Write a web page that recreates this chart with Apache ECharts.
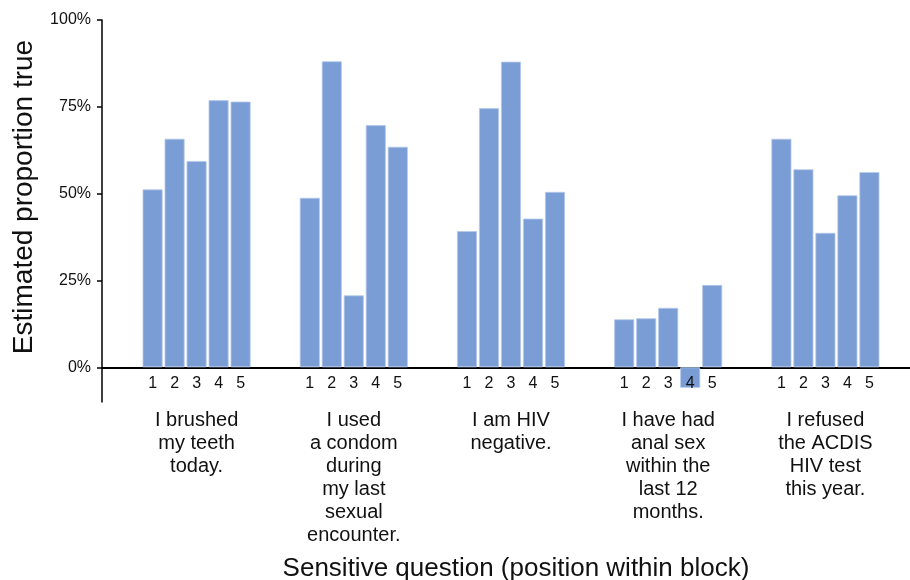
<!DOCTYPE html>
<html>
<head>
<meta charset="utf-8">
<script src="https://cdn.jsdelivr.net/npm/echarts@6/dist/echarts.min.js"></script>
<style>
html,body{margin:0;padding:0;background:#fff;}
#chart{width:910px;height:580px;}
</style>
</head>
<body>
<div id="chart"></div>
<script>
// ---- data ----
var questions = [
  'I brushed\nmy teeth\ntoday.',
  'I used\na condom\nduring\nmy last\nsexual\nencounter.',
  'I am HIV\nnegative.',
  'I have had\nanal sex\nwithin the\nlast 12\nmonths.',
  'I refused\nthe ACDIS\nHIV test\nthis year.'
];
var positions = ['1', '2', '3', '4', '5'];
var pos1 = [51.2, 48.8, 39.2, 13.8, 65.8];
var pos2 = [65.8, 88.1, 74.6, 14.1, 57.0];
var pos3 = [59.4, 20.7, 88.0, 17.1, 38.7];
var pos4 = [76.9, 69.7, 42.8, -5.9, 49.5];
var pos5 = [76.5, 63.5, 50.5, 23.7, 56.2];
var yTicks = [0, 25, 50, 75, 100];
var yMin = -10, yMax = 100;
var xTitle = 'Sensitive question (position within block)';
var yTitle = 'Estimated proportion true';

var seriesValues = [pos1, pos2, pos3, pos4, pos5];
var FONT = 'Liberation Sans, Arial, sans-serif';
var BAR = '#7b9dd6';

var chart = echarts.init(document.getElementById('chart'), null, {renderer: 'canvas'});

var series = seriesValues.map(function (vals, i) {
  return {
    name: positions[i],
    type: 'bar',
    xAxisIndex: 0,
    yAxisIndex: 0,
    barWidth: 20,
    barGap: '10%',
    itemStyle: {color: BAR, borderColor: '#b4c8ea', borderWidth: 0.8},
    label: {
      show: true,
      position: 'bottom',
      distance: 8,
      formatter: '{a}',
      color: '#111',
      fontSize: 16,
      fontFamily: FONT
    },
    silent: true,
    data: vals.map(function (v) {
      if (v < 0) {
        return {value: v, label: {position: 'insideTop', distance: 8}};
      }
      return v;
    })
  };
});

var option = {
  backgroundColor: '#fff',
  animation: false,
  textStyle: {fontFamily: FONT},
  grid: [
    {left: 118, width: 786, top: 20, height: 382, outerBoundsMode: 'none', containLabel: false},
    {left: 102, right: 0, top: 20, height: 382, outerBoundsMode: 'none', containLabel: false}
  ],
  xAxis: [
    {
      type: 'category',
      gridIndex: 0,
      data: questions,
      position: 'bottom',
      axisLine: {show: false, onZero: false},
      axisTick: {show: false},
      axisLabel: {
        margin: 7,
        fontSize: 20,
        lineHeight: 23,
        color: '#111',
        fontFamily: FONT,
        interval: 0
      },
      name: xTitle,
      nameLocation: 'middle',
      nameGap: 154,
      nameTextStyle: {fontSize: 26, color: '#111', fontFamily: FONT, padding: [0, 0, 0, 10]}
    },
    {
      type: 'category',
      gridIndex: 1,
      data: [''],
      axisLine: {show: true, onZero: true, lineStyle: {color: '#000', width: 2}},
      axisTick: {show: false},
      axisLabel: {show: false}
    }
  ],
  yAxis: [
    {
      type: 'value',
      gridIndex: 0,
      min: yMin,
      max: yMax,
      show: false,
      splitLine: {show: false}
    },
    {
      type: 'value',
      gridIndex: 1,
      min: yMin,
      max: yMax,
      splitLine: {show: false},
      axisLine: {show: true, lineStyle: {color: '#000', width: 1.5}},
      axisTick: {show: true, length: 5, lineStyle: {color: '#000', width: 1.5}, customValues: yTicks},
      axisLabel: {
        customValues: yTicks,
        formatter: '{value}%',
        fontSize: 16,
        color: '#111',
        margin: 11,
        fontFamily: FONT
      },
      name: yTitle,
      nameLocation: 'middle',
      nameGap: 64,
      nameTextStyle: {fontSize: 28, color: '#111', fontFamily: FONT, padding: [0, 0, 0, 28]}
    }
  ],
  series: series
};
chart.setOption(option);
</script>
</body>
</html>
